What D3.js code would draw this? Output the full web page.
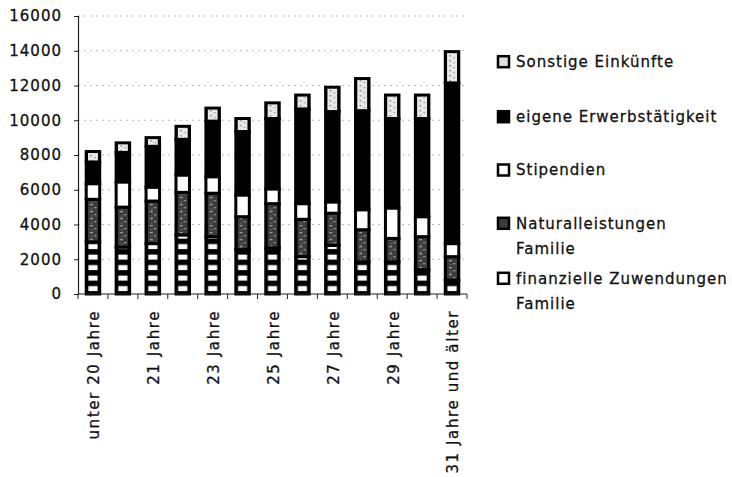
<!DOCTYPE html>
<html>
<head>
<meta charset="utf-8">
<script src="https://cdn.jsdelivr.net/npm/d3@7"></script>
<style>
  body { margin: 0; background: #fff; }
  text { font-family: "DejaVu Sans", sans-serif; font-size: 15px; letter-spacing: 1px; fill: #111; stroke: #111; stroke-width: 0.3px; }
  .xlab { letter-spacing: 1.6px; }
</style>
</head>
<body>
<svg id="chart" width="732" height="477"></svg>
<script>
// Einnahmen nach Alter, gestapelt nach Herkunft (Euro)
const categories = ["unter 20 Jahre", "20 Jahre", "21 Jahre", "22 Jahre", "23 Jahre", "24 Jahre",
  "25 Jahre", "26 Jahre", "27 Jahre", "28 Jahre", "29 Jahre", "30 Jahre", "31 Jahre und älter"];

const finanzielleZuwendungen = [3000, 2700, 2900, 3400, 3300, 2550, 2650, 2150, 2800, 1850, 1850, 1400, 800];
const naturalleistungen      = [2450, 2300, 2450, 2450, 2500, 1900, 2550, 2150, 1850, 1850, 1350, 1900, 1350];
const stipendien             = [900, 1450, 800, 1000, 950, 1250, 850, 900, 650, 1150, 1750, 1150, 750];
const erwerbstaetigkeit      = [1250, 1700, 2350, 2050, 3200, 3650, 4050, 5450, 5200, 5700, 5150, 5650, 9250];
const sonstige               = [600, 550, 500, 750, 750, 750, 900, 800, 1400, 1850, 1350, 1350, 1800];

const seriesKeys = ["fin", "nat", "stip", "erw", "sonst"];
const yTicks = [0, 2000, 4000, 6000, 8000, 10000, 12000, 14000, 16000];

// legend, top to bottom
const legendKeys = ["sonst", "erw", "stip", "nat", "fin"];
const legendLabels = [
  ["Sonstige Einkünfte"],
  ["eigene Erwerbstätigkeit"],
  ["Stipendien"],
  ["Naturalleistungen", "Familie"],
  ["finanzielle Zuwendungen", "Familie"]
];

const table = categories.map((c, i) => ({
  cat: c,
  fin: finanzielleZuwendungen[i],
  nat: naturalleistungen[i],
  stip: stipendien[i],
  erw: erwerbstaetigkeit[i],
  sonst: sonstige[i]
}));

const svg = d3.select("#chart");
const plotL = 78, plotR = 467, plotT = 16, plotB = 294;

const x = d3.scaleBand().domain(categories).range([plotL, plotR]).padding(0);
const y = d3.scaleLinear().domain([0, 16000]).range([plotB, plotT]);
const barW = 13.5;
const step = x.step();

// fills: pattern tiles repeat once per category so the texture sits centred in each bar
const defs = svg.append("defs");
function tile(id, h) {
  const p = defs.append("pattern").attr("id", id)
    .attr("patternUnits", "userSpaceOnUse")
    .attr("x", plotL).attr("y", y(0))
    .attr("width", step).attr("height", h);
  p.append("rect").attr("width", step).attr("height", h).attr("fill", "#000");
  return p;
}
const cx = step / 2;
// finanzielle Zuwendungen: white blocks on black
tile("pFin", 10.5).append("rect")
  .attr("x", cx - 4.6).attr("y", 2.6).attr("width", 9.2).attr("height", 5).attr("fill", "#fff");
// Naturalleistungen: dark mottled grey
const pNat = tile("pNat", 7);
pNat.append("rect").attr("x", cx - 5).attr("y", 0).attr("width", 10).attr("height", 7).attr("fill", "#3c3c3c");
pNat.append("rect").attr("x", cx - 3).attr("y", 1).attr("width", 3).attr("height", 1.3).attr("fill", "#9a9a9a");
pNat.append("rect").attr("x", cx + 1).attr("y", 4).attr("width", 2.5).attr("height", 1.3).attr("fill", "#8c8c8c");
pNat.append("rect").attr("x", cx - 2).attr("y", 5.5).attr("width", 1.5).attr("height", 1).attr("fill", "#777");
// Sonstige: light speckled grey
const pSon = tile("pSon", 5);
pSon.append("rect").attr("x", cx - 5).attr("y", 0).attr("width", 10).attr("height", 5).attr("fill", "#e8e8e8");
pSon.append("rect").attr("x", cx - 2.5).attr("y", 1).attr("width", 1.5).attr("height", 1.5).attr("fill", "#8a8a8a");
pSon.append("rect").attr("x", cx + 1.5).attr("y", 3).attr("width", 1.5).attr("height", 1.2).attr("fill", "#9a9a9a");

const barFill = { fin: "url(#pFin)", nat: "url(#pNat)", stip: "#fff", erw: "#000", sonst: "url(#pSon)" };
const legendFill = { fin: "#fff", nat: "#3c3c3c", stip: "#fff", erw: "#000", sonst: "#e0e0e0" };

// grid
svg.append("g").selectAll("line").data(yTicks.filter(d => d > 0)).join("line")
  .attr("x1", plotL).attr("x2", plotR)
  .attr("y1", d => y(d)).attr("y2", d => y(d))
  .attr("stroke", "#8c8c8c").attr("stroke-width", 1)
  .attr("stroke-dasharray", "2,4").attr("opacity", 0.6);

// stacked bars
const stacked = d3.stack().keys(seriesKeys)(table);
svg.append("g").selectAll("g").data(stacked).join("g")
  .attr("fill", s => barFill[s.key])
  .selectAll("rect").data(s => s).join("rect")
  .attr("x", d => x(d.data.cat) + (step - barW) / 2)
  .attr("width", barW)
  .attr("y", d => y(d[1]))
  .attr("height", d => y(d[0]) - y(d[1]))
  .attr("stroke", "#000").attr("stroke-width", 3);

// y axis
const yAxis = svg.append("g").attr("transform", `translate(${plotL},0)`)
  .call(d3.axisLeft(y).tickValues(yTicks).tickSize(4).tickPadding(12).tickFormat(d3.format("d")));
yAxis.select(".domain").attr("stroke", "#222").attr("stroke-width", 1.2);
yAxis.selectAll(".tick line").attr("stroke", "#222");
yAxis.selectAll("text").attr("fill", "#111");
yAxis.attr("font-family", null).attr("font-size", null);

// x axis: ticks between categories, every second label
const bounds = categories.map(c => x(c)).concat([plotR]);
svg.append("line").attr("x1", plotL).attr("x2", plotR).attr("y1", y(0)).attr("y2", y(0))
  .attr("stroke", "#222").attr("stroke-width", 1.2);
svg.append("g").selectAll("line").data(bounds).join("line")
  .attr("x1", d => d).attr("x2", d => d)
  .attr("y1", y(0)).attr("y2", y(0) + 5)
  .attr("stroke", "#222");
svg.append("g").selectAll("text").data(categories.filter((c, i) => i % 2 === 0)).join("text")
  .attr("class", "xlab")
  .attr("transform", c => `translate(${x(c) + step / 2 + 1},310) rotate(-90)`)
  .attr("text-anchor", "end")
  .attr("dy", "0.36em")
  .text(c => c);

// legend
const rowY = [61.7, 116.7, 170, 223.3, 278.3];
const lg = svg.append("g").selectAll("g").data(legendKeys).join("g")
  .attr("transform", (k, i) => `translate(498,${rowY[i]})`);
lg.append("rect")
  .attr("x", 0).attr("y", -5.5).attr("width", 11).attr("height", 11)
  .attr("fill", k => legendFill[k]).attr("stroke", "#000").attr("stroke-width", 2.5);
lg.append("text").attr("x", 18)
  .selectAll("tspan").data((k, i) => legendLabels[i]).join("tspan")
  .attr("x", 18).attr("dy", (d, j) => j === 0 ? "0.36em" : "25px")
  .text(d => d);
</script>
</body>
</html>
